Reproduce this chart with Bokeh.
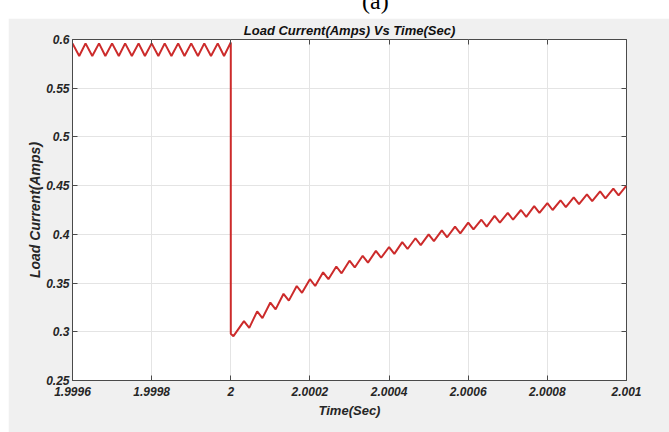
from bokeh.plotting import figure
from bokeh.models import Range1d, FixedTicker, LinearAxis, Div
from bokeh.layouts import column
from bokeh.embed import file_html
from bokeh.resources import INLINE

# ---- data ----
t_before = [1.999600, 1.999617, 1.999633, 1.999650, 1.999667, 1.999683, 1.999700,
            1.999717, 1.999733, 1.999750, 1.999767, 1.999783, 1.999800, 1.999817,
            1.999833, 1.999850, 1.999867, 1.999883, 1.999900, 1.999917, 1.999933,
            1.999950, 1.999967, 1.999983, 2.000000]
i_before = [0.596, 0.583, 0.596, 0.583, 0.596, 0.583, 0.596, 0.583, 0.596, 0.583,
            0.596, 0.583, 0.596, 0.583, 0.596, 0.583, 0.596, 0.583, 0.596, 0.583,
            0.596, 0.583, 0.596, 0.583, 0.597]

t_step = [2.0000000, 2.0000067]
i_step = [0.298, 0.2955]

t_after = [2.0000333, 2.0000467, 2.0000667, 2.0000800, 2.0001000, 2.0001133,
           2.0001333, 2.0001467, 2.0001667, 2.0001800, 2.0002000, 2.0002133,
           2.0002333, 2.0002467, 2.0002667, 2.0002800, 2.0003000, 2.0003133,
           2.0003333, 2.0003467, 2.0003667, 2.0003800, 2.0004000, 2.0004133,
           2.0004333, 2.0004467, 2.0004667, 2.0004800, 2.0005000, 2.0005133,
           2.0005333, 2.0005467, 2.0005667, 2.0005800, 2.0006000, 2.0006133,
           2.0006333, 2.0006467, 2.0006667, 2.0006800, 2.0007000, 2.0007133,
           2.0007333, 2.0007467, 2.0007667, 2.0007800, 2.0008000, 2.0008133,
           2.0008333, 2.0008467, 2.0008667, 2.0008800, 2.0009000, 2.0009133,
           2.0009333, 2.0009467, 2.0009667, 2.0009800, 2.0010000]
i_after = [0.311, 0.304, 0.321, 0.314, 0.330, 0.323, 0.339, 0.332, 0.347, 0.340,
           0.354, 0.347, 0.361, 0.354, 0.367, 0.360, 0.373, 0.366, 0.378, 0.371,
           0.383, 0.376, 0.387, 0.380, 0.392, 0.385, 0.396, 0.389, 0.400, 0.393,
           0.404, 0.397, 0.408, 0.401, 0.412, 0.405, 0.415, 0.408, 0.419, 0.412,
           0.422, 0.415, 0.425, 0.418, 0.429, 0.422, 0.432, 0.425, 0.435, 0.428,
           0.438, 0.431, 0.441, 0.434, 0.444, 0.437, 0.447, 0.440, 0.450]

x_ticks = [1.9996, 1.9998, 2.0, 2.0002, 2.0004, 2.0006, 2.0008, 2.001]
x_tick_labels = ["1.9996", "1.9998", "2", "2.0002", "2.0004", "2.0006", "2.0008", "2.001"]
y_ticks = [0.25, 0.3, 0.35, 0.4, 0.45, 0.5, 0.55, 0.6]
y_tick_labels = ["0.25", "0.3", "0.35", "0.4", "0.45", "0.5", "0.55", "0.6"]

title_text = "Load Current(Amps) Vs Time(Sec)"
x_label = "Time(Sec)"
y_label = "Load Current(Amps)"

t_all = t_before + t_step + t_after
i_all = i_before + i_step + i_after

FONT = "Liberation Sans"
AX = "#4a4a4a"
TXT = "#262626"

p = figure(width=661, height=414, output_backend="svg", toolbar_location=None,
           x_range=Range1d(1.9996, 2.001), y_range=Range1d(0.25, 0.6),
           min_border_left=64, min_border_right=43, min_border_top=20, min_border_bottom=52,
           title=title_text)
p.margin = (0, 0, 0, 8)
p.border_fill_color = "#f0f0f0"
p.background_fill_color = "white"
p.outline_line_color = AX
p.outline_line_width = 1

p.title.align = "center"
p.title.text_font = FONT
p.title.text_font_style = "bold italic"
p.title.text_font_size = "13px"
p.title.text_color = "#111111"
p.title.standoff = 4

p.line(t_all, i_all, line_color="#cc2b2b", line_width=2)

p.xaxis.ticker = FixedTicker(ticks=x_ticks)
p.xaxis.major_label_overrides = dict(zip(x_ticks, x_tick_labels))
p.yaxis.ticker = FixedTicker(ticks=y_ticks)
p.yaxis.major_label_overrides = dict(zip(y_ticks, y_tick_labels))
p.xgrid.ticker = FixedTicker(ticks=x_ticks)
p.ygrid.ticker = FixedTicker(ticks=y_ticks)

for ax in (p.xaxis[0], p.yaxis[0]):
    ax.axis_line_color = AX
    ax.major_tick_line_color = AX
    ax.major_tick_in = 5
    ax.major_tick_out = 0
    ax.minor_tick_line_color = None
    ax.major_label_text_font = FONT
    ax.major_label_text_font_style = "bold italic"
    ax.major_label_text_font_size = "12px"
    ax.major_label_text_color = TXT
    ax.axis_label_text_font = FONT
    ax.axis_label_text_font_style = "bold italic"
    ax.axis_label_text_color = TXT

p.xaxis.axis_label = x_label
p.xaxis.axis_label_text_font_size = "13px"
p.xaxis.major_label_standoff = 6
p.xaxis.axis_label_standoff = 4
p.yaxis.axis_label = y_label
p.yaxis.axis_label_text_font_size = "14px"
p.yaxis.major_label_standoff = 3
p.yaxis.axis_label_standoff = 0

# MATLAB-style box ticks on top and right (labels not drawn)
top = LinearAxis(ticker=FixedTicker(ticks=x_ticks), major_label_text_color=None,
                 major_label_text_font_size="1px",
                 major_tick_in=5, major_tick_out=0, minor_tick_line_color=None,
                 axis_line_color=None, major_tick_line_color=AX)
right = LinearAxis(ticker=FixedTicker(ticks=y_ticks), major_label_text_color=None,
                   major_label_text_font_size="1px",
                   major_tick_in=5, major_tick_out=0, minor_tick_line_color=None,
                   axis_line_color=None, major_tick_line_color=AX)
p.add_layout(top, "above")
p.add_layout(right, "right")

p.grid.grid_line_color = "#e4e4e4"
p.grid.grid_line_width = 1

caption = Div(
    text='<div style="position:absolute;left:362px;top:-11px;font-family:\'Liberation Serif\';'
         'font-size:24px;line-height:24px;color:#000;">(a)</div>',
    width=669, height=18, margin=0, styles={"overflow": "hidden", "position": "relative"})

layout = column(caption, p, spacing=0, margin=0)

open("out.html", "w").write(file_html(layout, INLINE))
